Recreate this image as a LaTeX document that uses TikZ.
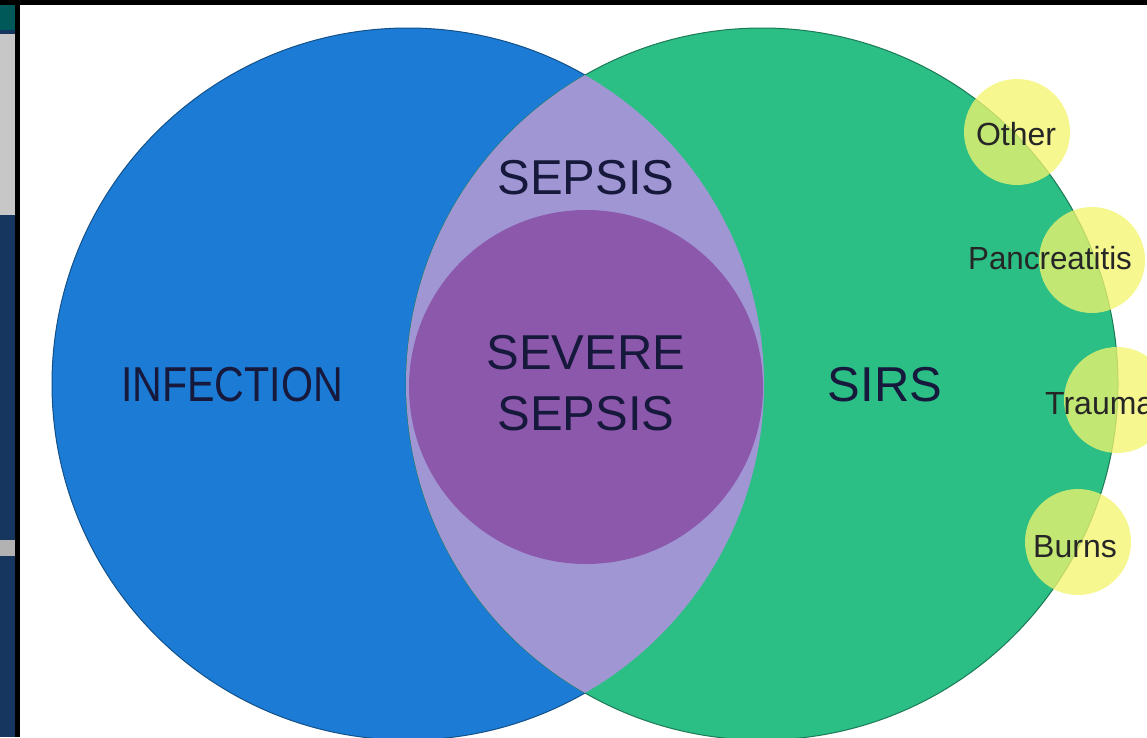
\documentclass[tikz,border=0pt]{standalone}
\usepackage{fontspec}
\setmainfont{Liberation Sans}
\usetikzlibrary{positioning}
\definecolor{azul}{RGB}{28,124,213}
\definecolor{verde}{RGB}{43,190,133}
\definecolor{lavanda}{RGB}{160,150,212}
\definecolor{morado}{RGB}{140,88,172}
\definecolor{amarillo}{RGB}{245,245,108}
\definecolor{tinta}{RGB}{22,24,60}
\definecolor{marino}{RGB}{22,54,96}
\begin{document}
\begin{tikzpicture}
  [x=1pt,y=-1pt,
   conjunto/.style={circle,inner sep=0pt,outer sep=0pt,minimum size=712pt,fill=#1,draw=#1!65!black,line width=1pt},
   grande/.style={text=tinta,inner sep=0pt,font=\fontsize{49}{61}\selectfont},
   causa/.style={circle,inner sep=0pt,outer sep=0pt,minimum size=106pt,fill=amarillo,fill opacity=.75,draw=none},
   chica/.style={text=black!85,inner sep=0pt,font=\fontsize{32}{36}\selectfont}]
  \useasboundingbox (0,0) rectangle (1147,737);
  \fill[white] (0,0) rectangle (1147,737);

  % los dos conjuntos
  \node[conjunto=azul] (infeccion) at (408,384) {};
  \node[conjunto=verde] (sirs) at (762,384) {};

  % interseccion: sepsis
  \begin{scope}
    \clip (infeccion.center) circle (356pt);
    \fill[lavanda] (sirs.center) circle (356pt);
  \end{scope}
  \node[circle,inner sep=0pt,outer sep=0pt,minimum size=354pt,fill=morado] (severa) at (586,387) {};

  % causas de SIRS
  \foreach \nombre/\pos in {c1/{(1017,132)}, c2/{(1092,260)}, c3/{(1117,400)}, c4/{(1078,542)}}
    \node[causa] (\nombre) at \pos {};

  % etiquetas
  \node[grande,xscale=.84] (tInf) at (232,385) {INFECTION};
  \node[grande] (tSirs) at (885,385) {SIRS};
  \node[grande] (tSep) at (586,178) {SEPSIS};
  \node[grande,align=center] (tSev) at (586,383) {SEVERE\\SEPSIS};
  \node[chica] (tOtra) at (1016,134) {Other};
  \node[chica,xscale=.98] (tPan) at (1050,258) {Pancreatitis};
  \node[chica,anchor=west] (tTra) at (1045,404) {Trauma};
  \node[chica] (tQue) at (1075,547) {Burns};

  % marco de la captura
  \fill[marino] (0,0) rectangle (16,737);
  \fill[teal!70!black] (0,0) rectangle (16,30);
  \fill[black!22] (0,34) rectangle (16,215);
  \fill[black!30] (0,540) rectangle (16,556);
  \fill[black] (15,0) rectangle (20,737);
  \fill[black] (0,0) rectangle (1147,5);
\end{tikzpicture}
\end{document}
